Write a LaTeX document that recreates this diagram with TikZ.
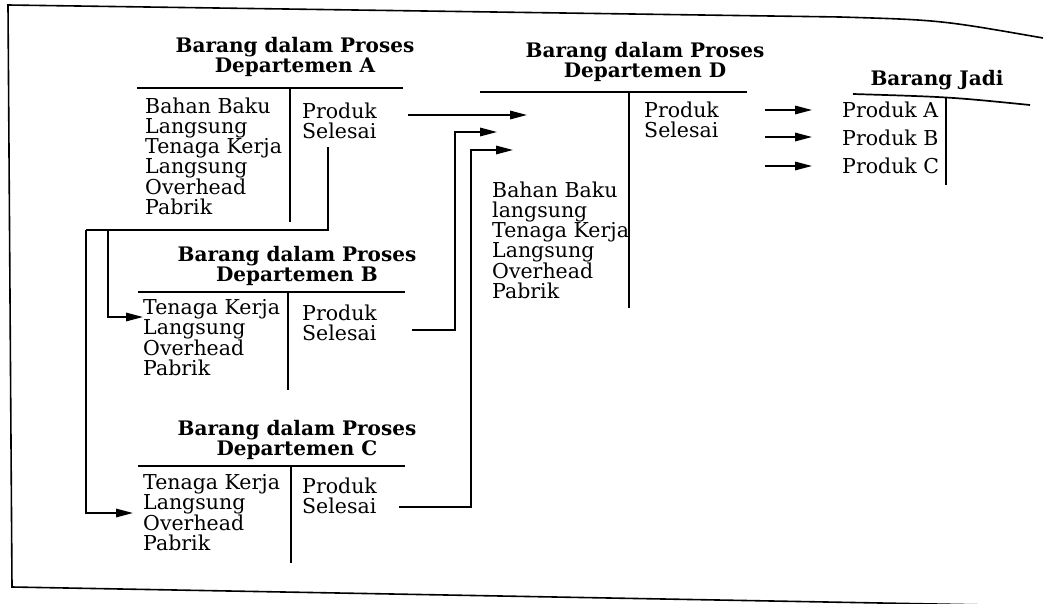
\documentclass[tikz,border=0pt]{standalone}
\usepackage{fontspec}
\setmainfont{DejaVu Serif}
\usetikzlibrary{arrows.meta}
\begin{document}
\begin{tikzpicture}[x=1pt,y=-1pt,
  body/.style={inner sep=0pt,anchor=north west,align=left,font=\fontsize{20.5}{20.2}\selectfont},
  ttl/.style={inner sep=0pt,anchor=north,align=center,font=\fontsize{20}{20.5}\selectfont\bfseries},
  rule/.style={line width=1.7pt},
  flow/.style={line width=1.6pt,-{Triangle[length=17pt,width=8.5pt]}},
  wire/.style={line width=1.6pt}]
\clip (0,0) rectangle (1043,604);
\fill[white] (0,0) rectangle (1043,604);
% frame
\draw[line width=1.6pt] (1043,38) .. controls (940,20) .. (840,17) -- (8,5) -- (12,587) -- (1043,606);

% Departemen A
\node[ttl] (tA) at (295,36.8) {Barang dalam Proses\\Departemen A};
\draw[rule] (137,88) -- (403,88);
\draw[rule] (290,88) -- (290,222);
\node[body] (lA) at (145,97.5) {Bahan Baku\\Langsung\\Tenaga Kerja\\Langsung\\Overhead\\Pabrik};
\node[body] (rA) at (302,102.5) {Produk\\Selesai};

% Departemen B
\node[ttl] (tB) at (297,245.8) {Barang dalam Proses\\Departemen B};
\draw[rule] (138,292) -- (405,292);
\draw[rule] (288,292) -- (288,390);
\node[body] (lB) at (143,299.5) {Tenaga Kerja\\Langsung\\Overhead\\Pabrik};
\node[body] (rB) at (302,304.5) {Produk\\Selesai};

% Departemen C
\node[ttl] (tC) at (297,419.8) {Barang dalam Proses\\Departemen C};
\draw[rule] (138,466) -- (405,466);
\draw[rule] (291,466) -- (291,563);
\node[body] (lC) at (143,474.5) {Tenaga Kerja\\Langsung\\Overhead\\Pabrik};
\node[body] (rC) at (302,477.5) {Produk\\Selesai};

% Departemen D
\node[ttl] (tD) at (645,41.8) {Barang dalam Proses\\Departemen D};
\draw[rule] (480,92) -- (747,92);
\draw[rule] (629,92) -- (629,308);
\node[body] (lD) at (492,181.5) {Bahan Baku\\langsung\\Tenaga Kerja\\Langsung\\Overhead\\Pabrik};
\node[body] (rD) at (644,101.5) {Produk\\Selesai};

% Barang Jadi
\node[ttl] (tJ) at (937,69.8) {Barang Jadi};
\draw[rule] (853,94) .. controls (950,97) .. (1030,105);
\draw[rule] (946,97) -- (946,185);
\node[body] (pA) at (842,101.5) {Produk A};
\node[body] (pB) at (842,129.5) {Produk B};
\node[body] (pC) at (842,157.5) {Produk C};

% connector coordinates
\coordinate (aOut) at (408,115);
\coordinate (dInA) at (527,115);
\coordinate (aDown) at (328,147);
\coordinate (aCorner) at (328,230);
\coordinate (aLeft) at (86,230);
\coordinate (aMid) at (108,230);
\coordinate (cTurn) at (86,513);
\coordinate (cIn) at (133,513);
\coordinate (bTurn) at (108,317);
\coordinate (bIn) at (143,317);
\coordinate (bOut) at (412,330);
\coordinate (bUp) at (455,330);
\coordinate (bTop) at (455,132);
\coordinate (dInB) at (497,132);
\coordinate (cOut) at (399,507);
\coordinate (cUp) at (471,507);
\coordinate (cTop) at (471,150);
\coordinate (dInC) at (513,150);
\coordinate (jA0) at (765,110);
\coordinate (jA1) at (812,110);
\coordinate (jB0) at (765,137);
\coordinate (jB1) at (812,137);
\coordinate (jC0) at (765,166);
\coordinate (jC1) at (812,166);

% connectors
\draw[flow] (aOut) -- (dInA);
\draw[wire] (aDown) -- (aCorner) -- (aLeft);
\draw[flow] (aLeft) -- (cTurn) -- (cIn);
\draw[flow] (aMid) -- (bTurn) -- (bIn);
\draw[flow] (bOut) -- (bUp) -- (bTop) -- (dInB);
\draw[flow] (cOut) -- (cUp) -- (cTop) -- (dInC);
\draw[flow] (jA0) -- (jA1);
\draw[flow] (jB0) -- (jB1);
\draw[flow] (jC0) -- (jC1);
\end{tikzpicture}
\end{document}
